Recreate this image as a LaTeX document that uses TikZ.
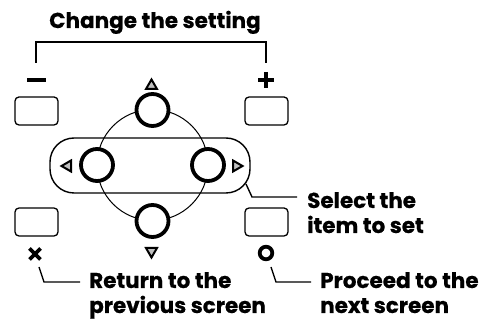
\documentclass[tikz,border=0pt]{standalone}
\usepackage{fontspec}
\setmainfont{Poppins}[BoldFeatures={FakeBold=0.6}]
\begin{document}
\begin{tikzpicture}[x=1pt,y=-1pt,
  keybox/.style={draw,line width=1.3pt,rounded corners=4pt},
  knob/.style={draw,line width=3.8pt,fill=white},
  tri/.style={draw,line width=2pt,fill=gray!50,line join=miter},
  leader/.style={line width=1.4pt},
  lbl/.style={font=\fontsize{21.5}{25}\selectfont\bfseries,anchor=base west,inner sep=0pt,align=left}]
\useasboundingbox (0,0) rectangle (483,320);
% title and bracket
\node[lbl,anchor=base] (title) at (155,28) {Change the setting};
\coordinate (bl) at (36,63);
\coordinate (br) at (266,63);
\draw[line width=1.6pt] (bl) -- (36,42) -- (266,42) -- (br);
% minus / plus
\draw[line width=4.2pt] (27,80) -- (46,80);
\draw[line width=3.8pt] (258,80) -- (274,80) (266,72) -- (266,88);
% key boxes
\node[keybox,minimum width=43pt,minimum height=28pt] (kTL) at (36.5,111) {};
\node[keybox,minimum width=43pt,minimum height=28pt] (kTR) at (266.5,111) {};
\node[keybox,minimum width=43pt,minimum height=28pt] (kBL) at (36.5,222) {};
\node[keybox,minimum width=43pt,minimum height=28pt] (kBR) at (266.5,222) {};
% pill
\draw[line width=1.4pt,rounded corners=24pt] (50,138) rectangle (250,193);
\coordinate (pillc) at (246,184);
% big thin circle
\draw[line width=1pt] (152.5,165) circle[radius=55.5];
% knobs
\node[knob,circle,minimum size=32pt,inner sep=0pt] (up) at (152.5,110) {};
\node[knob,circle,minimum size=32pt,inner sep=0pt] (dn) at (152.5,221) {};
\node[knob,circle,minimum size=32pt,inner sep=0pt] (lf) at (97,165) {};
\node[knob,circle,minimum size=32pt,inner sep=0pt] (rt) at (208,165) {};
% triangles
\draw[tri] (151.5,79.5) -- (157,89) -- (146,89) -- cycle;
\draw[tri] (151.5,257.5) -- (157,248) -- (146,248) -- cycle;
\draw[tri] (61.5,166) -- (71,160.5) -- (71,171.5) -- cycle;
\draw[tri] (242.5,166) -- (233,160.5) -- (233,171.5) -- cycle;
% x and o
\draw[line width=3.6pt] (29.5,248.5) -- (40.5,259.5) (40.5,248.5) -- (29.5,259.5);
\draw[line width=3.8pt] (266,253) circle[radius=6.3];
% leaders
\coordinate (xl) at (39,267);
\coordinate (ol) at (271,267);
\draw[leader] (xl) -- (44,282) -- (80,282);
\draw[leader] (ol) -- (276,282) -- (311,282);
\draw[leader] (pillc) -- (252,197) -- (297,197);
% labels
\node[lbl] (ret) at (89,313) {Return to the\\previous screen};
\node[lbl] (pro) at (320,313) {Proceed to the\\next screen};
\node[lbl] (sel) at (307,233) {Select the\\item to set};
\end{tikzpicture}
\end{document}
